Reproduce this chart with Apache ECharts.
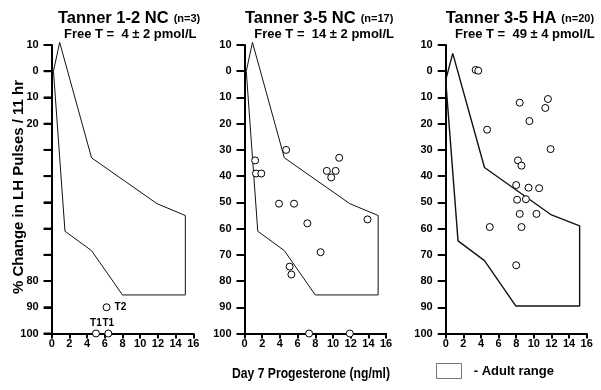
<!DOCTYPE html>
<html>
<head>
<meta charset="utf-8">
<script src="https://cdn.jsdelivr.net/npm/echarts@6/dist/echarts.min.js"></script>
<style>html,body{margin:0;padding:0;background:#fff;}#c{width:601px;height:390px;}</style>
</head>
<body>
<div id="c"></div>
<script>
// ---- data ----
const xTicks = [0, 2, 4, 6, 8, 10, 12, 14, 16];
const yTickValues = [-10, 0, 10, 20, 30, 40, 50, 60, 70, 80, 90, 100];
const yTickLabels = ['10', '0', '10', '20', '30', '40', '50', '60', '70', '80', '90', '100'];
// panel 1: labels 30-70 are hidden under the axis title in the original
const yLabelValuesP1 = [-10, 0, 10, 20, 80, 90, 100];

// Tanner 1-2 NC
const p1X = [5.0, 6.4, 6.2];
const p1Y = [100, 100, 90];
const p1Labels = ['T1', 'T1', 'T2'];

// Tanner 3-5 NC
const p2X = [4.7, 1.2, 1.3, 1.9, 10.7, 9.3, 10.3, 9.8, 3.9, 5.6, 7.1, 13.9, 8.6, 5.1, 5.3, 7.3, 11.9];
const p2Y = [30, 34, 39, 39, 33, 38, 38, 40.5, 50.5, 50.5, 58, 56.5, 69, 74.5, 77.5, 100, 100];

// Tanner 3-5 HA
const p3X = [3.4, 3.7, 8.4, 11.6, 11.3, 9.5, 4.7, 11.9, 8.2, 8.6, 8.0, 9.4, 10.6, 8.1, 9.1, 8.4, 10.3, 5.0, 8.6, 8.0];
const p3Y = [-0.5, -0.2, 12, 10.6, 14, 19, 22.3, 29.7, 34, 36, 43.4, 44.4, 44.6, 49, 48.8, 54.4, 54.4, 59.4, 59.4, 74];

// Adult range polygons
const rangeNCx = [0.2, 0.9, 4.5, 11.9, 15.1, 15.1, 8.0, 4.5, 1.5, 0.2];
const rangeNCy = [0, -11, 33, 50.5, 55, 85.3, 85.3, 68.4, 61, 0];
const rangeHAx = [0, 0.8, 4.4, 12.0, 15.2, 15.2, 7.95, 4.4, 1.4, 0];
const rangeHAy = [3.4, -6.8, 36.7, 54.8, 59, 89.5, 89.5, 72.2, 64.7, 3.4];

const titles = ['Tanner 1-2 NC', 'Tanner 3-5 NC', 'Tanner 3-5 HA'];
const nLabels = ['(n=3)', '(n=17)', '(n=20)'];
const freeT = ['Free T =  4 \u00b1 2 pmol/L', 'Free T =  14 \u00b1 2 pmol/L', 'Free T =  49 \u00b1 4 pmol/L'];
const xName = 'Day 7 Progesterone (ng/ml)';
const yName = '% Change in LH Pulses / 11 hr';
const legendText = '- Adult range';

// ---- chart ----
const FONT = '"Liberation Sans", Arial, Helvetica, sans-serif';
const zip = (xs, ys) => xs.map((x, i) => [x, ys[i]]);

const gridLefts = [51.7, 244.5, 445.7];
const gridWidths = [141.6, 141.6, 141];
const titleLefts = [58, 245, 445.7];
const subLefts = [64, 254.3, 455];

function yAxis(i, labelValues) {
  return {
    type: 'value', gridIndex: i, position: 'left', offset: 0, inverse: true, min: -10, max: 100, interval: 10,
    axisLine: { show: true, lineStyle: { color: '#000', width: 2 } },
    axisTick: { show: true, length: 8, lineStyle: { color: '#000', width: 2 } },
    splitLine: { show: false },
    axisLabel: {
      customValues: labelValues, color: '#000', fontFamily: FONT, fontWeight: 'bold', fontSize: 11, margin: 13,
      formatter: v => { const k = yTickValues.indexOf(Math.round(v)); return k >= 0 ? yTickLabels[k] : ''; }
    }
  };
}
function xAxis(i) {
  return {
    type: 'value', gridIndex: i, min: 0, max: 16, interval: 2,
    axisLine: { show: true, onZero: false, lineStyle: { color: '#000', width: 2 } },
    axisTick: { show: true, length: 5, lineStyle: { color: '#000', width: 2 } },
    splitLine: { show: false },
    axisLabel: {
      color: '#000', fontFamily: FONT, fontWeight: 'bold', fontSize: 11, margin: 5,
      formatter: v => xTicks.indexOf(v) >= 0 ? String(v) : ''
    }
  };
}

const yAxes = [yAxis(0, yLabelValuesP1), yAxis(1, yTickValues), yAxis(2, yTickValues)];

const titleArr = [];
for (let i = 0; i < 3; i++) {
  titleArr.push({
    text: '{a|' + titles[i] + '} {b|' + nLabels[i] + '}',
    left: titleLefts[i], top: 9.5, padding: 0,
    textStyle: {
      rich: {
        a: { fontFamily: FONT, fontWeight: 'bold', fontSize: 16.5, color: '#000' },
        b: { fontFamily: FONT, fontWeight: 'bold', fontSize: 11, color: '#000' }
      }
    }
  });
  titleArr.push({
    text: freeT[i], left: subLefts[i], top: 28, padding: 0,
    textStyle: { fontFamily: FONT, fontWeight: 'bold', fontSize: 13, color: '#000' }
  });
}

function rangeSeries(i, xs, ys, w) {
  return {
    name: 'Adult range', type: 'line', xAxisIndex: i, yAxisIndex: i,
    data: zip(xs, ys), symbol: 'none', clip: false, silent: true,
    lineStyle: { color: '#111', width: w }, z: 1
  };
}
function scatterSeries(i, data) {
  return {
    type: 'scatter', xAxisIndex: i, yAxisIndex: i, data: data, symbol: 'circle', symbolSize: 7,
    clip: false, itemStyle: { color: '#fff', borderColor: '#000', borderWidth: 1, opacity: 1 }, z: 5
  };
}

// tick marks on panel 1's y axis, placed through the axis scale
const tickSeriesP1 = {
  type: 'custom', xAxisIndex: 0, yAxisIndex: 0, clip: false, silent: true, z: 10,
  data: yTickValues.map(v => [xTicks[0], v]),
  renderItem: (params, api) => {
    const p = api.coord([api.value(0), api.value(1)]);
    return {
      type: 'line',
      shape: { x1: p[0] - 8, y1: p[1], x2: p[0], y2: p[1] },
      style: { stroke: '#000', lineWidth: 2 }
    };
  }
};

const p1Data = zip(p1X, p1Y).map((v, k) => ({
  value: v,
  label: {
    show: true, formatter: p1Labels[k], position: p1Labels[k] === 'T2' ? 'right' : 'top',
    distance: p1Labels[k] === 'T2' ? 4 : 1,
    fontFamily: FONT, fontWeight: 'bold', fontSize: 10, color: '#000'
  }
}));

const option = {
  animation: false,
  backgroundColor: '#fff',
  title: titleArr,
  graphic: [{
    type: 'text', x: 311, y: 374, scaleX: 0.81, silent: true,
    style: { text: xName, font: 'bold 15px ' + FONT, fill: '#000', textAlign: 'center', textVerticalAlign: 'middle' }
  }, {
    type: 'text', x: 19, y: 187, rotation: Math.PI / 2, silent: true,
    style: { text: yName, font: 'bold 15px ' + FONT, fill: '#000', textAlign: 'center', textVerticalAlign: 'middle' }
  }],
  legend: {
    left: 436, top: 363, padding: 0, itemWidth: 25, itemHeight: 15, selectedMode: false,
    data: [{ name: 'Adult range', icon: 'rect', itemStyle: { color: '#fff', borderColor: '#777', borderWidth: 1 } }],
    formatter: () => '  ' + legendText,
    textStyle: { fontFamily: FONT, fontWeight: 'bold', fontSize: 13, color: '#000' }
  },
  grid: gridLefts.map((l, i) => ({ left: l, top: 45, width: gridWidths[i], height: 288.5, containLabel: false })),
  xAxis: [xAxis(0), xAxis(1), xAxis(2)],
  yAxis: yAxes,
  series: [
    rangeSeries(0, rangeNCx, rangeNCy, 1),
    rangeSeries(1, rangeNCx, rangeNCy, 1),
    rangeSeries(2, rangeHAx, rangeHAy, 1.4),
    scatterSeries(0, p1Data),
    scatterSeries(1, zip(p2X, p2Y)),
    scatterSeries(2, zip(p3X, p3Y)),
    tickSeriesP1
  ]
};
const chart = echarts.init(document.getElementById('c'), null, { renderer: 'canvas' });
chart.setOption(option);
</script>
</body>
</html>
